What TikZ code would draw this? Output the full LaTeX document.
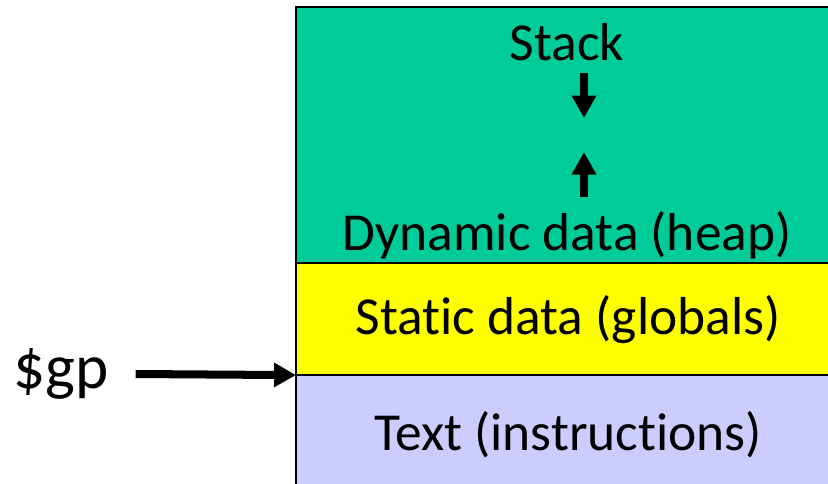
\documentclass[tikz,border=0pt]{standalone}
\usepackage{fontspec}
\setmainfont{Carlito}[Ligatures=NoCommon]
\usetikzlibrary{arrows.meta, positioning}
\definecolor{heapgreen}{RGB}{0,204,153}
\definecolor{globyellow}{RGB}{255,255,0}
\definecolor{textblue}{RGB}{204,204,255}
\tikzstyle{segment} = [rectangle, draw, line width=1.4pt, outer sep=0pt, minimum width=13.6cm, text centered, font=\fontsize{38}{45}\selectfont]
\tikzstyle{segtext} = [font=\fontsize{38}{45}\selectfont, inner sep=0pt]
\tikzstyle{growarrow} = [line width=5.7pt, -{Triangle[length=16pt, width=16.5pt]}]
\tikzstyle{pointer} = [line width=5.7pt, -{Triangle[length=15.6pt, width=16.5pt]}]

\begin{document}
\begin{tikzpicture}[x=0.025cm, y=-0.025cm]
    \clip (0,0) rectangle (828,483);
    \fill [white] (0,0) rectangle (828,483);

    \node [segment, fill=heapgreen, minimum height=6.4cm, anchor=north west] at (296,7) (dyn) {};
    \node [segment, fill=globyellow, minimum height=2.8cm, below=0pt of dyn] (static) {Static data (globals)};
    \node [segment, fill=textblue, minimum height=3.0cm, below=0pt of static] (text) {\raisebox{3pt}{Text (instructions)}};

    \node [segtext] at (567,42) (stack) {Stack};
    \node [segtext] at (567,235) (heap) {Dynamic data (heap)};
    \node [font=\fontsize{45}{53}\selectfont, inner sep=0pt] at (61,374) (gp) {\$gp};

    \coordinate (stackend) at (584,118);
    \coordinate (heapend) at (584,152);

    \draw [growarrow] ([yshift=-8.5pt]stack.south -| stackend) -- (stackend);
    \draw [growarrow] ([yshift=10pt]heap.north -| heapend) -- (heapend);
    \draw [pointer] ([xshift=19pt]gp.east) -- (text.north west);
\end{tikzpicture}
\end{document}
